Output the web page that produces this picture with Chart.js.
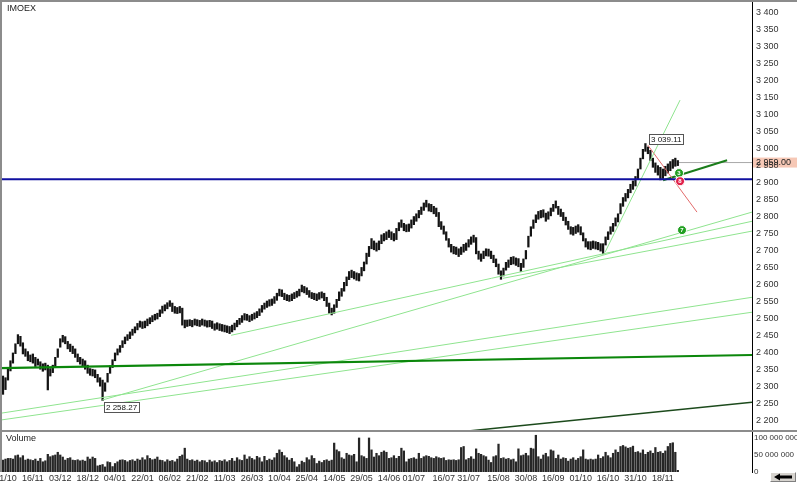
<!DOCTYPE html>
<html><head><meta charset="utf-8">
<script src="https://cdn.jsdelivr.net/npm/chart.js@4.4.0/dist/chart.umd.min.js"></script>
<style>
html,body{margin:0;padding:0;background:#fff;}
#wrap{position:relative;width:797px;height:482px;overflow:hidden;font-family:"Liberation Sans",Arial,sans-serif;background:#fff;}
#pc{position:absolute;left:0;top:0;}
#vc{position:absolute;left:0;top:431px;}
.frameTop{position:absolute;left:0;top:0;width:797px;height:2px;background:#8c8c8c;}
.frameLeft{position:absolute;left:0;top:0;width:2px;height:472px;background:#8c8c8c;}
.sep{position:absolute;left:0;top:430px;width:797px;height:2px;background:#8c8c8c;}
.title{position:absolute;left:7px;top:3px;font-size:9px;color:#222;}
.vtitle{position:absolute;left:6px;top:433px;font-size:9px;color:#222;}
.btn{position:absolute;left:770px;top:472px;width:26px;height:10px;background:#d6d3ce;border-top:1px solid #fff;border-left:1px solid #fff;border-right:1px solid #808080;border-bottom:1px solid #808080;box-sizing:border-box;}
</style>
</head><body>
<div id="wrap">
<canvas id="pc" width="797" height="431"></canvas>
<canvas id="vc" width="797" height="51"></canvas>
<div class="frameTop"></div><div class="frameLeft"></div><div class="sep"></div>
<div class="title">IMOEX</div>
<div class="vtitle">Volume</div>
<div class="btn"><svg width="24" height="8" viewBox="0 0 24 8" style="display:block"><polygon points="3,4 9,0.5 9,2.5 21,2.5 21,5.5 9,5.5 9,7.5" fill="#000"/></svg></div>
</div>
<script>
// ---------------- DATA ----------------
const priceTicks = [2200,2250,2300,2350,2400,2450,2500,2550,2600,2650,2700,2750,2800,2850,2900,2950,3000,3050,3100,3150,3200,3250,3300,3350,3400];
const volTicks = [0,50000000,100000000];
const xTickIdx = [2,12,23,34,45,56,67,78,89,100,111,122,133,144,155,165,177,187,199,210,221,232,243,254,265];
const xLabels = ['1/10','16/11','03/12','18/12','04/01','22/01','06/02','21/02','11/03','26/03','10/04','25/04','14/05','29/05','14/06','01/07','16/07','31/07','15/08','30/08','16/09','01/10','16/10','31/10','18/11'];

const lows = [2276,2290,2318,2345,2368,2396,2425,2418,2395,2388,
 2375,2372,2368,2358,2362,2350,2344,2348,2289,2330,
 2340,2355,2385,2415,2430,2425,2410,2402,2396,2385,
 2372,2365,2360,2350,2338,2332,2330,2325,2312,2300,
 2258,2285,2312,2338,2355,2375,2392,2400,2414,2425,
 2435,2440,2450,2457,2466,2474,2470,2472,2478,2484,
 2490,2495,2498,2505,2515,2522,2528,2535,2520,2515,
 2514,2516,2480,2472,2476,2478,2475,2480,2478,2476,
 2480,2477,2474,2475,2470,2465,2468,2464,2462,2460,
 2458,2455,2460,2466,2475,2482,2488,2495,2494,2490,
 2494,2498,2502,2508,2518,2527,2532,2536,2538,2544,
 2553,2566,2564,2555,2552,2550,2552,2558,2562,2566,
 2578,2575,2570,2562,2558,2555,2552,2556,2560,2552,
 2535,2515,2510,2515,2532,2552,2565,2580,2596,2614,
 2620,2616,2612,2610,2625,2640,2660,2682,2705,2702,
 2698,2702,2720,2728,2732,2738,2732,2728,2732,2758,
 2768,2758,2755,2756,2766,2776,2786,2796,2806,2818,
 2828,2816,2814,2808,2800,2770,2762,2748,2730,2710,
 2695,2690,2688,2682,2688,2695,2700,2710,2718,2724,
 2690,2674,2668,2676,2684,2683,2676,2664,2652,2630,
 2615,2625,2642,2650,2658,2660,2656,2652,2638,2650,
 2675,2710,2742,2765,2782,2792,2796,2798,2786,2792,
 2802,2815,2825,2806,2800,2788,2775,2762,2748,2745,
 2750,2754,2746,2728,2710,2704,2702,2706,2704,2702,
 2698,2690,2716,2732,2748,2756,2772,2784,2808,2830,
 2845,2855,2870,2880,2890,2910,2940,2970,2992,2985,
 2965,2945,2930,2922,2908,2912,2920,2928,2935,2942,
 2948,2950];
const highs = [2330,2325,2350,2375,2398,2425,2452,2447,2428,2410,
 2402,2392,2395,2385,2380,2372,2366,2368,2362,2352,
 2362,2385,2410,2440,2450,2446,2432,2424,2418,2410,
 2395,2385,2380,2375,2362,2352,2350,2348,2335,2325,
 2318,2310,2338,2360,2378,2398,2410,2420,2434,2445,
 2452,2460,2468,2475,2485,2492,2490,2492,2498,2502,
 2508,2512,2515,2525,2536,2540,2546,2552,2545,2535,
 2532,2535,2530,2495,2495,2496,2494,2498,2496,2494,
 2498,2495,2493,2494,2492,2484,2487,2484,2482,2480,
 2478,2476,2480,2486,2494,2500,2508,2514,2512,2508,
 2512,2516,2520,2528,2538,2545,2551,2555,2557,2564,
 2574,2586,2584,2574,2570,2568,2572,2576,2580,2586,
 2598,2594,2590,2582,2576,2574,2572,2576,2578,2574,
 2562,2545,2530,2540,2556,2578,2588,2606,2622,2638,
 2642,2638,2634,2632,2650,2666,2692,2712,2735,2728,
 2722,2728,2746,2750,2755,2760,2755,2750,2765,2782,
 2790,2780,2776,2778,2790,2800,2808,2818,2828,2840,
 2848,2838,2836,2830,2825,2812,2785,2772,2755,2735,
 2718,2712,2710,2705,2710,2718,2722,2732,2740,2745,
 2738,2698,2690,2698,2705,2704,2698,2686,2675,2660,
 2640,2648,2665,2672,2680,2682,2678,2676,2662,2675,
 2700,2742,2770,2790,2805,2815,2818,2820,2810,2814,
 2825,2836,2846,2830,2822,2812,2798,2786,2770,2768,
 2772,2776,2770,2752,2735,2726,2726,2728,2726,2724,
 2720,2720,2740,2755,2770,2780,2796,2808,2838,2856,
 2868,2880,2895,2905,2918,2940,2972,2998,3015,3005,
 2995,2972,2958,2950,2945,2940,2948,2955,2962,2968,
 2972,2965];
const volumeMln = [35,38,40,40,38,48,50,42,48,35,
 38,36,34,38,32,40,30,33,52,45,
 48,50,58,50,44,35,40,42,35,34,
 36,33,35,32,44,38,44,40,18,20,
 22,15,30,28,16,25,30,35,36,34,
 30,34,36,32,38,35,42,36,48,40,
 36,38,44,35,34,30,36,32,34,30,
 38,46,50,70,38,34,36,32,35,30,
 34,33,28,35,30,33,28,34,32,36,
 30,34,40,32,42,36,34,50,38,45,
 40,36,46,42,30,46,34,38,35,42,
 55,65,58,48,42,35,40,30,15,22,
 32,28,42,36,48,40,25,32,28,34,
 36,32,35,85,65,60,42,38,55,50,
 48,52,30,100,48,45,40,100,65,44,
 55,48,58,62,58,40,42,48,40,46,
 70,62,30,38,40,42,38,55,40,45,
 48,46,42,40,45,42,40,42,34,36,
 35,36,34,36,72,75,36,40,45,38,
 68,55,52,48,45,35,28,45,48,82,
 40,42,38,40,36,38,30,68,48,50,
 55,48,70,68,108,45,38,50,55,45,
 65,62,40,50,38,42,40,32,38,42,
 35,40,45,65,38,36,38,36,38,50,
 40,45,58,48,42,55,65,58,75,78,
 74,70,72,76,58,60,56,65,52,58,
 62,55,72,58,60,55,62,75,84,86,
 58,5];

// trend lines: [barIndex, price] end points
const supportLevel = [[-1.2,2910],[300.8,2910]];
const thickGreenTrend = [[-1.2,2353],[300.8,2392]];
const darkLowTrend = [[186.8,2168],[300.8,2253]];
const lightTrendA = [[39.8,2259],[300.8,2813]];
const lightTrendB = [[91.6,2450],[300.8,2786]];
const lightTrendC = [[200.8,2618],[300.8,2757]];
const lightTrendD = [[-1.2,2220],[300.8,2562]];
const lightTrendE = [[-1.2,2200],[300.8,2518]];
const steepTrend = [[241.8,2695],[271.9,3143]];
const redTrend = [[259.0,3010],[278.7,2813]];
const shortGreenTrend = [[265.1,2907],[290.8,2966]];
const lastPriceLine = [[271.5,2959],[300.8,2959]];
const lastPrice = 2959.00;
const peakNote = {idx:258, price:3015, text:'3 039.11'};
const lowNote = {idx:40, price:2258, text:'2 258.27'};
const markers = [
  {idx:271.5, price:2928, label:'3', kind:'g'},
  {idx:271.9, price:2904, label:'8', kind:'r'},
  {idx:272.7, price:2760, label:'7', kind:'g'}
];

// ---------------- CHARTS ----------------
const FONT = '"Liberation Sans", Arial, sans-serif';
const fmt = v => String(Math.round(v)).replace(/\B(?=(\d{3})+(?!\d))/g, ' ');
const pts = a => a.map(p => ({x:p[0], y:p[1]}));
const lineDs = (a, color, w, order) => ({type:'line', data:pts(a), borderColor:color, borderWidth:w, pointRadius:0, fill:false, tension:0, order:order||1});

const barData = lows.map((lo, i) => ({x:i, y:[lo, highs[i]]}));
const volData = volumeMln.map((v, i) => ({x:i, y:v*1000000}));

const notesPlugin = {
  id:'notes',
  beforeDraw(chart){
    const {ctx, scales:{y}} = chart;
    const py = y.getPixelForValue(lastPrice);
    ctx.save();
    ctx.fillStyle = '#f6c8b6';
    ctx.fillRect(chart.chartArea.right+1, py-5, 45, 10);
    ctx.restore();
  },
  afterDraw(chart){
    const {ctx, scales:{x, y}} = chart;
    ctx.save();
    ctx.font = '8px ' + FONT;
    ctx.textBaseline = 'middle';
    const box = (cx, top, text) => {
      const w = Math.ceil(ctx.measureText(text).width) + 4;
      ctx.fillStyle = '#fff';
      ctx.fillRect(cx, top, w, 11);
      ctx.strokeStyle = '#555';
      ctx.lineWidth = 1;
      ctx.strokeRect(cx+0.5, top+0.5, w-1, 10);
      ctx.fillStyle = '#111';
      ctx.textAlign = 'left';
      ctx.fillText(text, cx+2, top+6);
    };
    const px1 = x.getPixelForValue(peakNote.idx), py1 = y.getPixelForValue(peakNote.price);
    box(Math.round(px1+4), Math.round(py1-10), peakNote.text);
    const px2 = x.getPixelForValue(lowNote.idx), py2 = y.getPixelForValue(lowNote.price);
    box(Math.round(px2+1), Math.round(py2+2), lowNote.text);
    ctx.font = '9px ' + FONT;
    ctx.fillStyle = '#222';
    ctx.textAlign = 'left';
    ctx.fillText('2 959.00', chart.chartArea.right+4, y.getPixelForValue(lastPrice));
    ctx.font = 'bold 6px ' + FONT;
    ctx.textAlign = 'center';
    ctx.fillStyle = '#fff';
    markers.forEach(m => ctx.fillText(m.label, x.getPixelForValue(m.idx), y.getPixelForValue(m.price)+0.5));
    ctx.restore();
  }
};

new Chart(document.getElementById('pc'), {
  type:'bar',
  data:{datasets:[
    lineDs(supportLevel, '#1010a0', 2),
    lineDs(thickGreenTrend, '#0b870b', 2.2),
    lineDs(darkLowTrend, '#1c4a1c', 1.5),
    lineDs(lightTrendA, '#8fe48f', 1),
    lineDs(lightTrendB, '#8fe48f', 1),
    lineDs(lightTrendC, '#8fe48f', 1),
    lineDs(lightTrendD, '#8fe48f', 1),
    lineDs(lightTrendE, '#8fe48f', 1),
    lineDs(steepTrend, '#8fe48f', 1),
    lineDs(redTrend, '#e26a6a', 1),
    lineDs(shortGreenTrend, '#1b7d1b', 2),
    lineDs(lastPriceLine, '#a8a8a8', 1),
    {type:'line', data:markers.map(m=>({x:m.idx, y:m.price})), showLine:false, pointRadius:4.5,
     pointBackgroundColor:markers.map(m=>m.kind==='g'?'#22a022':'#e0204a'), pointBorderColor:'#ffffff', pointBorderWidth:1, order:0},
    {type:'bar', data:barData, backgroundColor:'#141414', barThickness:1.6, grouped:false, order:10}
  ]},
  options:{
    responsive:false, animation:false, devicePixelRatio:1,
    layout:{padding:0, autoPadding:false},
    plugins:{legend:{display:false}, tooltip:{enabled:false}},
    scales:{
      x:{type:'linear', min:-1.2, max:300.8, offset:false, display:false},
      y:{position:'right', min:2168, max:3438,
         grid:{display:false, drawTicks:false},
         border:{display:true, color:'#000', width:1},
         ticks:{font:{size:9, family:FONT}, color:'#333', padding:4, callback:v=>fmt(v)},
         afterBuildTicks:s=>{s.ticks = priceTicks.map(v=>({value:v}));},
         afterFit:s=>{s.width=45; s.paddingTop=0; s.paddingBottom=0;}
      }
    }
  },
  plugins:[notesPlugin]
});

new Chart(document.getElementById('vc'), {
  type:'bar',
  data:{datasets:[{data:volData, backgroundColor:'#262626', barThickness:1.6}]},
  options:{
    responsive:false, animation:false, devicePixelRatio:1,
    layout:{padding:0, autoPadding:false},
    plugins:{legend:{display:false}, tooltip:{enabled:false}},
    scales:{
      x:{type:'linear', min:-1.2, max:300.8, offset:false,
         grid:{display:false, drawTicks:false}, border:{display:false},
         ticks:{autoSkip:false, maxRotation:0, minRotation:0, padding:1, font:{size:9, family:FONT}, color:'#333',
                callback:(v,i)=>xLabels[i]},
         afterBuildTicks:s=>{s.ticks = xTickIdx.map(v=>({value:v}));},
         afterFit:s=>{s.height=10; s.paddingLeft=0; s.paddingRight=0;}
      },
      y:{position:'right', min:0, max:120500000,
         grid:{display:false, drawTicks:false},
         border:{display:true, color:'#000', width:1},
         ticks:{font:{size:8, family:FONT}, color:'#333', padding:2, callback:v=>fmt(v)},
         afterBuildTicks:s=>{s.ticks = volTicks.map(v=>({value:v}));},
         afterFit:s=>{s.width=45; s.paddingTop=0; s.paddingBottom=0;}
      }
    }
  }
});
</script>
</body></html>
